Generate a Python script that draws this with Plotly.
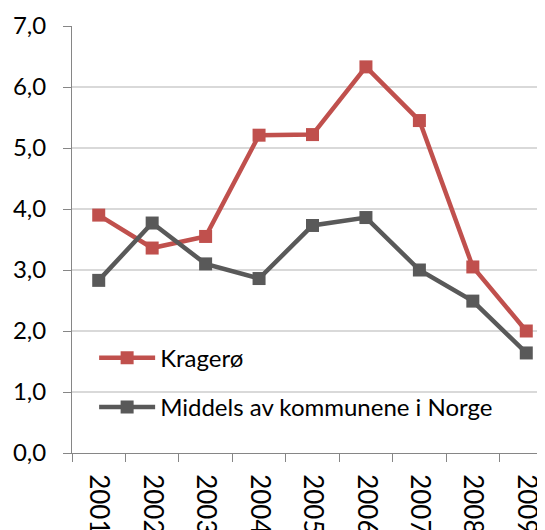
import plotly.graph_objects as go

years = ["2001", "2002", "2003", "2004", "2005", "2006", "2007", "2008", "2009"]
kragero = [3.90, 3.36, 3.55, 5.21, 5.22, 6.33, 5.45, 3.05, 2.00]
norge = [2.83, 3.77, 3.10, 2.86, 3.73, 3.86, 3.00, 2.49, 1.64]
y_ticks = [0, 1, 2, 3, 4, 5, 6, 7]

RED = "#C0504D"
GRAY = "#595959"
FONT = "Lato"

fig = go.Figure()
fig.add_trace(go.Scatter(
    x=years, y=kragero, name="Kragerø", mode="lines+markers",
    line=dict(color=RED, width=4.5), marker=dict(symbol="square", size=13, color=RED),
    legend="legend",
))
fig.add_trace(go.Scatter(
    x=years, y=norge, name="Middels av kommunene i Norge", mode="lines+markers",
    line=dict(color=GRAY, width=4.5), marker=dict(symbol="square", size=13, color=GRAY),
    legend="legend2",
))

legend_common = dict(
    font=dict(family=FONT, size=24, color="#000000"),
    bgcolor="rgba(0,0,0,0)", borderwidth=0, itemwidth=56,
    xanchor="left", yanchor="middle",
)

fig.update_layout(
    width=545, height=530,
    margin=dict(l=64, r=0, t=18, b=85),
    paper_bgcolor="white", plot_bgcolor="white",
    separators=", ",
    font=dict(family=FONT, size=22, color="#000000"),
    showlegend=True,
    legend=dict(x=0.046, y=0.222, **legend_common),
    legend2=dict(x=0.046, y=0.107, **legend_common),
    xaxis=dict(
        type="category", range=[-0.5, 8.5], tickson="boundaries",
        ticks="outside", ticklen=8, tickcolor="#868686", tickwidth=1,
        showline=True, linecolor="#868686", linewidth=1,
        showgrid=False, tickangle=90, automargin=False,
        ticklabelstandoff=15,
        tickfont=dict(family=FONT, size=26),
    ),
    yaxis=dict(
        range=[0, 7], tickvals=y_ticks, tickformat=".1f",
        ticks="outside", ticklen=8, tickcolor="#868686", tickwidth=1,
        showline=True, linecolor="#868686", linewidth=1,
        showgrid=True, gridcolor="#D9D9D9", gridwidth=1.5,
        zeroline=False, automargin=False,
        ticklabelstandoff=12,
        tickfont=dict(family=FONT, size=24),
    ),
)

fig.write_html("out.html")
